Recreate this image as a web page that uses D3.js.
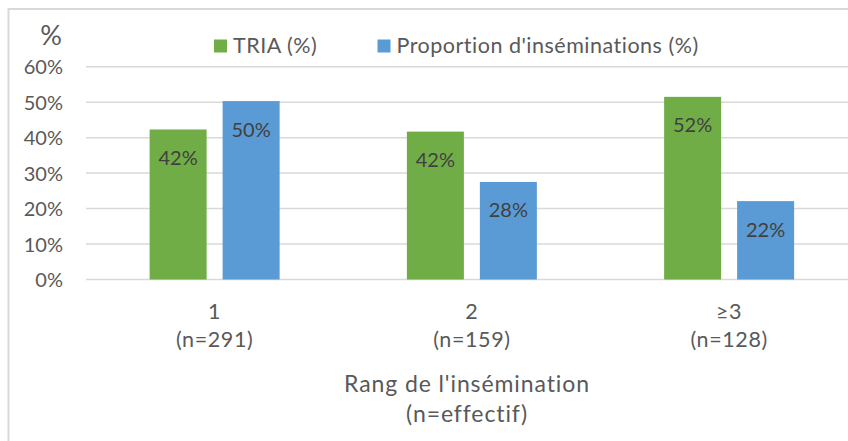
<!DOCTYPE html>
<html>
<head>
<meta charset="utf-8">
<script src="https://cdn.jsdelivr.net/npm/d3@7"></script>
<style>
  html, body { margin: 0; padding: 0; background: #fff; }
  svg { display: block; }
  text { font-family: Lato, "Open Sans", sans-serif; }
</style>
</head>
<body>
<svg id="chart" width="848" height="441"></svg>
<script>
const categories = ["1", "2", "≥3"];
const categoryCounts = ["(n=291)", "(n=159)", "(n=128)"];
const seriesNames = ["TRIA (%)", "Proportion d'inséminations (%)"];
const triaValues = [0.423, 0.417, 0.515];
const proportionValues = [0.503, 0.275, 0.221];
const yTicks = [0, 0.1, 0.2, 0.3, 0.4, 0.5, 0.6];
const colors = ["#70ad47", "#5b9bd5"];

(function () {
const seriesValues = [triaValues, proportionValues];
const rows = categories.map((c, i) => ({
  cat: c,
  n: categoryCounts[i],
  vals: seriesNames.map((s, j) => ({ key: s, value: seriesValues[j][i], idx: j }))
}));

const svg = d3.select("#chart");
const W = 848, H = 441;
const plotLeft = 86, plotRight = 857.75, plotTop = 66.7, plotBottom = 279.5;

// outer border
svg.append("rect")
  .attr("x", 8.5).attr("y", 9).attr("width", W + 20).attr("height", H + 20)
  .attr("fill", "none").attr("stroke", "#d9d9d9").attr("stroke-width", 2);

const y = d3.scaleLinear().domain([0, 0.6]).range([plotBottom, plotTop]);
const x0 = d3.scaleBand().domain(categories).range([plotLeft, plotRight])
  .paddingInner(0.4947).paddingOuter(0.4947 / 2);
const x1 = d3.scaleBand().domain(seriesNames).range([0, x0.bandwidth()]).paddingInner(0.219);

// gridlines
svg.append("g").selectAll("line").data(yTicks).join("line")
  .attr("x1", plotLeft).attr("x2", W)
  .attr("y1", d => y(d)).attr("y2", d => y(d))
  .attr("stroke", "#d9d9d9").attr("stroke-width", 1.5);

// y axis labels
const yAxis = d3.axisLeft(y).tickValues(yTicks).tickFormat(d3.format(".0%")).tickSize(0).tickPadding(0);
const gy = svg.append("g").attr("transform", `translate(63,0)`).call(yAxis);
gy.select(".domain").remove();
gy.selectAll("text").attr("font-size", 20).attr("fill", "#595959")
  .attr("font-family", "Lato, sans-serif").attr("dy", "0.35em");

// % unit label
svg.append("text").attr("x", 51).attr("y", 45).attr("text-anchor", "middle")
  .attr("font-size", 27).attr("fill", "#595959").text("%");

// bars
const groups = svg.append("g").selectAll("g").data(rows).join("g")
  .attr("transform", d => `translate(${x0(d.cat)},0)`);
groups.selectAll("rect").data(d => d.vals).join("rect")
  .attr("x", d => x1(d.key)).attr("width", x1.bandwidth())
  .attr("y", d => y(d.value)).attr("height", d => y(0) - y(d.value))
  .attr("fill", d => colors[d.idx]);
groups.selectAll("text").data(d => d.vals).join("text")
  .attr("x", d => x1(d.key) + x1.bandwidth() / 2)
  .attr("y", d => y(d.value) + 35.5)
  .attr("text-anchor", "middle").attr("font-size", 20).attr("fill", "#404040")
  .text(d => d3.format(".0%")(d.value));

// x axis labels
const xl = svg.append("g").selectAll("text").data(rows).join("text")
  .attr("text-anchor", "middle").attr("font-size", 21.5).attr("letter-spacing", 0.6)
  .attr("fill", "#595959");
xl.append("tspan").attr("x", d => x0(d.cat) + x0.bandwidth() / 2).attr("y", 319).text(d => d.cat);
xl.append("tspan").attr("x", d => x0(d.cat) + x0.bandwidth() / 2).attr("y", 347).text(d => d.n);

// axis title
const title = svg.append("text").attr("text-anchor", "middle").attr("font-size", 23)
  .attr("letter-spacing", 0.9).attr("fill", "#595959");
title.append("tspan").attr("x", 467).attr("y", 392).text("Rang de l'insémination");
title.append("tspan").attr("x", 467).attr("y", 422).text("(n=effectif)");

// legend
const legendX = [214, 377.5];
const lg = svg.append("g").selectAll("g").data(seriesNames).join("g")
  .attr("transform", (d, i) => `translate(${legendX[i]},0)`);
lg.append("rect").attr("x", 0).attr("y", 39.5).attr("width", 13).attr("height", 13)
  .attr("fill", (d, i) => colors[i]);
lg.append("text").attr("x", 19).attr("y", 52.5).attr("font-size", 21.5)
  .attr("letter-spacing", 0.5).attr("fill", "#595959")
  .text(d => d);
})();
</script>
</body>
</html>
